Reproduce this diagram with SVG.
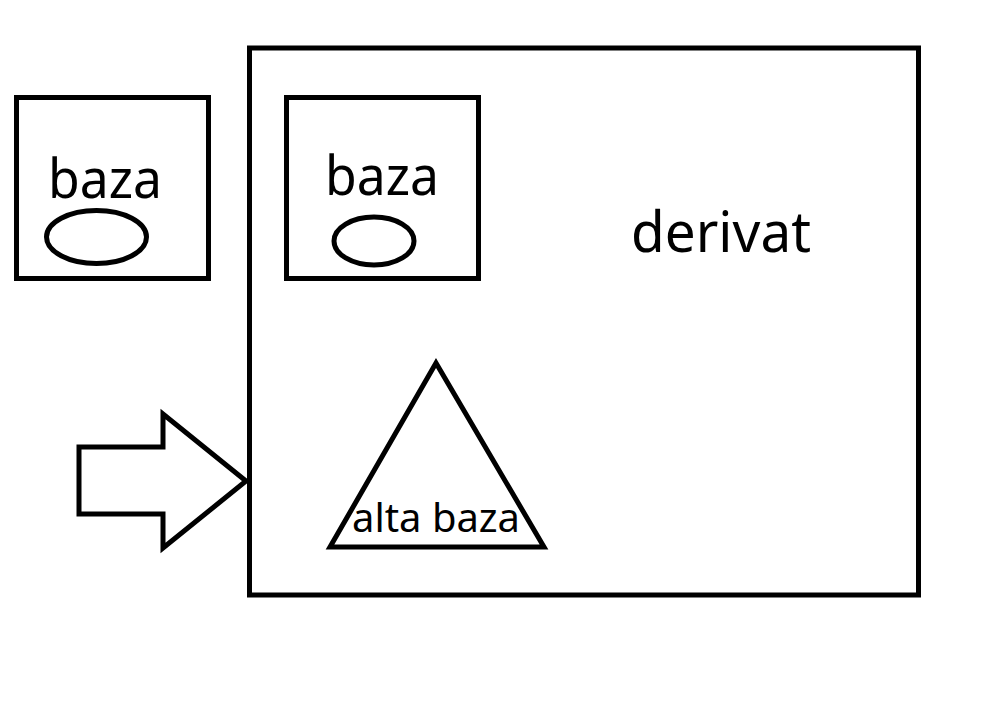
<svg xmlns="http://www.w3.org/2000/svg" width="1008" height="716" viewBox="0 0 1008 716">
<style>
.s{fill:none;stroke:#000;stroke-width:5;stroke-linejoin:miter}
.t{font-family:"Noto Sans","Open Sans",sans-serif;fill:#000}
</style>
<rect width="1008" height="716" fill="#fff"/>
<g id="baza-left">
<rect class="s" x="16.5" y="97.5" width="192" height="181"/>
<text class="t" x="48" y="198" font-size="54" textLength="114" lengthAdjust="spacingAndGlyphs">baza</text>
<ellipse class="s" cx="96.5" cy="237" rx="50" ry="26.5"/>
</g>
<g id="derivat">
<rect class="s" x="249.5" y="48" width="669" height="547"/>
<text class="t" x="631" y="252" font-size="56" textLength="180" lengthAdjust="spacingAndGlyphs">derivat</text>
</g>
<g id="baza-inner">
<rect class="s" x="286.5" y="97.5" width="192" height="181"/>
<text class="t" x="325" y="195" font-size="54" textLength="114" lengthAdjust="spacingAndGlyphs">baza</text>
<ellipse class="s" cx="374" cy="241" rx="40" ry="24"/>
</g>
<g id="alta-baza">
<polygon class="s" points="436,363 330,547 544,547"/>
<text class="t" x="352" y="532" font-size="40" textLength="168" lengthAdjust="spacingAndGlyphs">alta baza</text>
</g>
<g id="connectors">
<polygon class="s" points="79,447 163,447 163,414 246,481 163,548 163,514 79,514"/>
</g>
</svg>
